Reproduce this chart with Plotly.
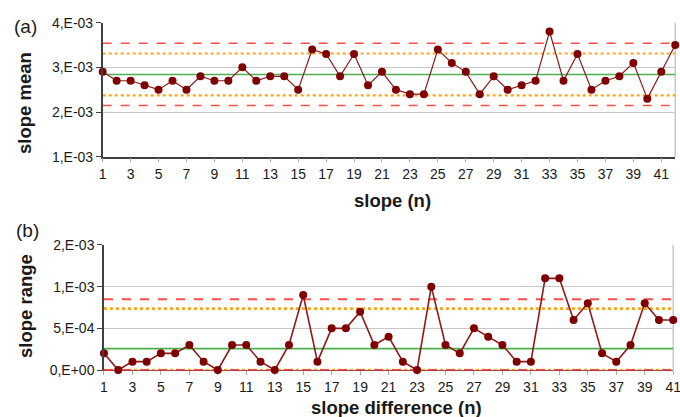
import plotly.graph_objects as go

# ---- data ----
slope_n = list(range(1, 43))
slope_mean = [2.9, 2.7, 2.7, 2.6, 2.5, 2.7, 2.5, 2.8, 2.7, 2.7,
              3.0, 2.7, 2.8, 2.8, 2.5, 3.4, 3.3, 2.8, 3.3, 2.6,
              2.9, 2.5, 2.4, 2.4, 3.4, 3.1, 2.9, 2.4, 2.8, 2.5,
              2.6, 2.7, 3.8, 2.7, 3.3, 2.5, 2.7, 2.8, 3.1, 2.3,
              2.9, 3.5]
slope_mean = [v * 1e-3 for v in slope_mean]

diff_n = list(range(1, 42))
slope_range = [0.2, 0.0, 0.1, 0.1, 0.2, 0.2, 0.3, 0.1, 0.0, 0.3,
               0.3, 0.1, 0.0, 0.3, 0.9, 0.1, 0.5, 0.5, 0.7, 0.3,
               0.4, 0.1, 0.0, 1.0, 0.3, 0.2, 0.5, 0.4, 0.3, 0.1,
               0.1, 1.1, 1.1, 0.6, 0.8, 0.2, 0.1, 0.3, 0.8, 0.6,
               0.6]
slope_range = [v * 1e-3 for v in slope_range]

# control limits (center, warning, action)
a_center = 2.84e-3
a_warn = [2.375e-3, 3.31e-3]
a_action = [2.145e-3, 3.54e-3]
b_center = 2.56e-4
b_warn = [0.0, 7.37e-4]
b_action = [0.0, 8.48e-4]

a_ticks = [1e-3, 2e-3, 3e-3, 4e-3]
a_ticktext = ["1,E-03", "2,E-03", "3,E-03", "4,E-03"]
b_ticks = [0.0, 5e-4, 1e-3, 1.5e-3]
b_ticktext = ["0,E+00", "5,E-04", "1,E-03", "2,E-03"]

FONT = "Liberation Sans, Arial, sans-serif"
DATA_COLOR = "#7f0000"
LINE_COLOR = "#8b1a1a"
RED = "#ff4d4d"
ORANGE = "#ffa31a"
GREEN = "#4caf50"
GRID = "#c8c8c8"
AXIS = "#404040"

fig = go.Figure()


def hline(xs, y, color, dash, width, xa, ya):
    fig.add_trace(go.Scatter(x=[xs[0], xs[-1]], y=[y, y], mode="lines",
                             line=dict(color=color, dash=dash, width=width),
                             xaxis=xa, yaxis=ya, hoverinfo="skip",
                             showlegend=False, cliponaxis=False))


# panel (a)
hline(slope_n, a_center, GREEN, "solid", 1.6, "x", "y")
for v in a_warn:
    hline(slope_n, v, ORANGE, "dot", 2.2, "x", "y")
for v in a_action:
    hline(slope_n, v, RED, "dash", 1.6, "x", "y")
fig.add_trace(go.Scatter(x=slope_n, y=slope_mean, mode="lines+markers",
                         line=dict(color=LINE_COLOR, width=1.2),
                         marker=dict(color=DATA_COLOR, size=8),
                         xaxis="x", yaxis="y", showlegend=False, cliponaxis=False))

# panel (b)
hline(diff_n, b_center, GREEN, "solid", 1.6, "x2", "y2")
for v in b_warn:
    hline(diff_n, v, ORANGE, "dot", 2.6, "x2", "y2")
for v in b_action:
    hline(diff_n, v, RED, "dash", 2.0, "x2", "y2")
fig.add_trace(go.Scatter(x=diff_n, y=slope_range, mode="lines+markers",
                         line=dict(color=LINE_COLOR, width=1.6),
                         marker=dict(color=DATA_COLOR, size=8),
                         xaxis="x2", yaxis="y2", showlegend=False, cliponaxis=False))

tickfont = dict(family=FONT, size=14, color="#1a1a1a")

fig.update_layout(
    width=680, height=417,
    margin=dict(l=0, r=0, t=0, b=0),
    paper_bgcolor="white", plot_bgcolor="white",
    font=dict(family=FONT),
    xaxis=dict(domain=[0.151, 0.993], range=[slope_n[0], slope_n[-1]],
               tickvals=slope_n[::2], ticks="outside", ticklen=4,
               tickcolor="#aaaaaa", showgrid=False, zeroline=False,
               showline=True, linecolor=AXIS, linewidth=1.5,
               tickfont=tickfont, anchor="y", automargin=False,
               ticklabeloverflow="allow"),
    yaxis=dict(domain=[0.6242, 0.9456], range=[1e-3, 4e-3],
               tickvals=a_ticks, ticktext=a_ticktext, ticks="outside",
               ticklen=5, tickcolor=AXIS, showgrid=True, gridcolor=GRID,
               gridwidth=1, zeroline=False, showline=True, linecolor=AXIS,
               linewidth=1.5, tickfont=tickfont, anchor="x", automargin=False),
    xaxis2=dict(domain=[0.1529, 0.990], range=[diff_n[0], diff_n[-1]],
                tickvals=diff_n[::2], ticks="outside", ticklen=4,
                tickcolor="#aaaaaa", showgrid=False, zeroline=False,
                showline=True, linecolor="#b04040", linewidth=1.2,
                layer="below traces", tickfont=tickfont, anchor="y2",
                automargin=False, ticklabeloverflow="allow"),
    yaxis2=dict(domain=[0.1127, 0.4125], range=[0, 1.5e-3],
                tickvals=b_ticks, ticktext=b_ticktext, ticks="outside",
                ticklen=5, tickcolor=AXIS, showgrid=True, gridcolor=GRID,
                gridwidth=1, zeroline=False, showline=True, linecolor=AXIS,
                linewidth=1.5, tickfont=tickfont, anchor="x2", automargin=False),
)

# right borders
fig.add_shape(type="line", xref="x domain", yref="y domain", x0=1, x1=1,
              y0=0, y1=1, line=dict(color=GRID, width=1.5), layer="below")
fig.add_shape(type="line", xref="x2 domain", yref="y2 domain", x0=1, x1=1,
              y0=0, y1=1, line=dict(color=GRID, width=1.5), layer="below")

title_font = dict(family=FONT, size=18.5, color="#1a1a1a")
fig.add_annotation(text="<b>slope mean</b>", x=24, y=103,
                   showarrow=False, textangle=-90, font=title_font)
fig.add_annotation(text="<b>slope range</b>", x=25, y=306,
                   showarrow=False, textangle=-90, font=title_font)
fig.add_annotation(text="<b>slope (n)</b>", x=393, y=200, showarrow=False, font=title_font)
fig.add_annotation(text="<b>slope difference (n)</b>", x=396, y=407, showarrow=False,
                   font=title_font)
fig.add_annotation(text="(a)", x=25, y=26, showarrow=False,
                   font=dict(family=FONT, size=19, color="#1a1a1a"))
fig.add_annotation(text="(b)", x=27, y=230, showarrow=False,
                   font=dict(family=FONT, size=19, color="#1a1a1a"))

# convert pixel positions of annotations to paper coords
for ann in fig.layout.annotations:
    ann.xref = "paper"
    ann.yref = "paper"
    ann.x = ann.x / 680
    ann.y = 1 - ann.y / 417
    ann.xanchor = "center"
    ann.yanchor = "middle"

fig.write_html("out.html", config={"displayModeBar": False},
               post_script="document.body.style.margin='0';document.body.style.overflow='hidden';")
